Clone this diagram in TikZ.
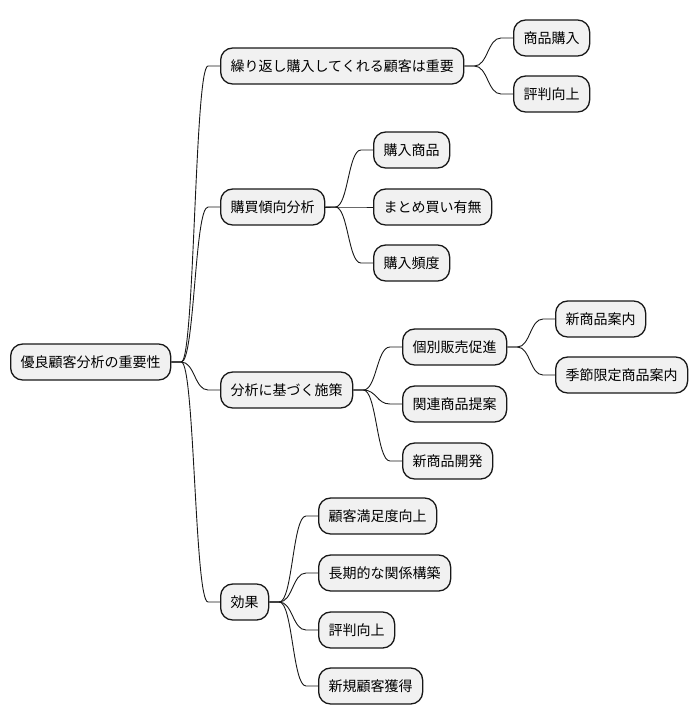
\documentclass[tikz,border=0pt]{standalone}
\usepackage{fontspec}
\newfontfamily\cjk{Noto Sans CJK JP}
\usetikzlibrary{calc}
\definecolor{boxfill}{HTML}{F1F1F1}
\definecolor{boxline}{HTML}{181818}
\tikzset{
  mm/.style={draw=boxline, fill=boxfill, line width=1.3pt, rounded corners=12pt,
    anchor=west, inner xsep=10pt, inner ysep=0pt, minimum height=36pt,
    font=\cjk\fontsize{14pt}{16pt}\selectfont, text=black},
  conn/.style={draw=boxline, line width=0.9pt}
}
\newcommand{\mmconn}[2]{%
  \draw[conn] let \p1=(#1.east), \p2=(#2.west), \n1={(\x1+10pt+\x2-12pt)/2} in
    (\p1) -- (\x1+10pt,\y1) .. controls (\n1,\y1) and (\n1,\y2) .. (\x2-12pt,\y2) -- (\p2);}
\begin{document}
\begin{tikzpicture}[x=1pt,y=-1pt]
\useasboundingbox (0,0) rectangle (698,724);
\node[mm] (root) at (10,362) {優良顧客分析の重要性};
\node[mm] (A) at (220,66) {繰り返し購入してくれる顧客は重要};
\node[mm] (A1) at (513,38) {商品購入};
\node[mm] (A2) at (513,94) {評判向上};
\node[mm] (B) at (220,207) {購買傾向分析};
\node[mm] (B1) at (373,150) {購入商品};
\node[mm] (B2) at (373,207) {まとめ買い有無};
\node[mm] (B3) at (373,263) {購入頻度};
\node[mm] (C) at (220,390) {分析に基づく施策};
\node[mm] (C1) at (402,347) {個別販売促進};
\node[mm] (C1a) at (555,319) {新商品案内};
\node[mm] (C1b) at (555,375) {季節限定商品案内};
\node[mm] (C2) at (402,404) {関連商品提案};
\node[mm] (C3) at (402,461) {新商品開発};
\node[mm] (D) at (220,602) {効果};
\node[mm] (D1) at (318,516) {顧客満足度向上};
\node[mm] (D2) at (318,573) {長期的な関係構築};
\node[mm] (D3) at (318,630) {評判向上};
\node[mm] (D4) at (318,686) {新規顧客獲得};
\mmconn{root}{A}
\mmconn{root}{B}
\mmconn{root}{C}
\mmconn{root}{D}
\mmconn{A}{A1}
\mmconn{A}{A2}
\mmconn{B}{B1}
\mmconn{B}{B2}
\mmconn{B}{B3}
\mmconn{C}{C1}
\mmconn{C}{C2}
\mmconn{C}{C3}
\mmconn{C1}{C1a}
\mmconn{C1}{C1b}
\mmconn{D}{D1}
\mmconn{D}{D2}
\mmconn{D}{D3}
\mmconn{D}{D4}
\end{tikzpicture}
\end{document}
